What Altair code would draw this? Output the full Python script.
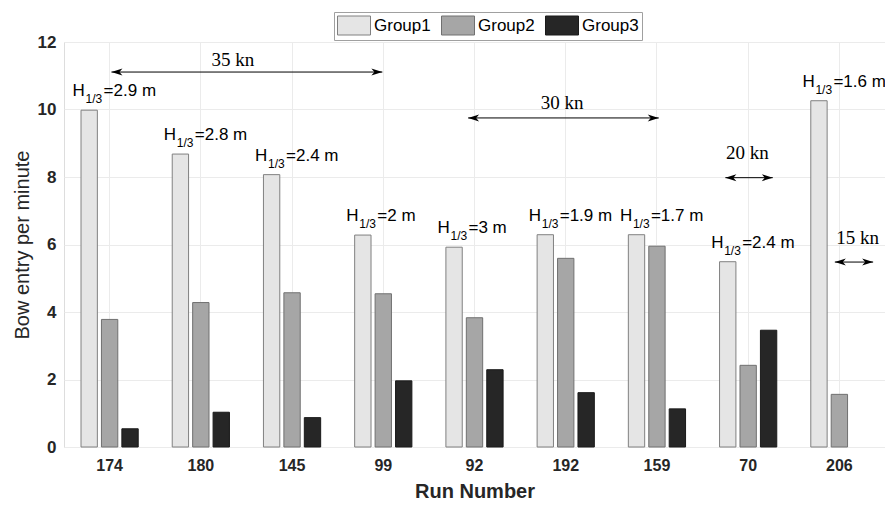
import altair as alt
import pandas as pd

# ---------------- data ----------------
runs = ["174", "180", "145", "99", "92", "192", "159", "70", "206"]
groups = ["Group1", "Group2", "Group3"]
group1 = [9.98, 8.68, 8.07, 6.28, 5.92, 6.29, 6.29, 5.49, 10.26]
group2 = [3.78, 4.28, 4.57, 4.54, 3.83, 5.59, 5.95, 2.42, 1.56]
group3 = [0.54, 1.03, 0.87, 1.96, 2.29, 1.61, 1.13, 3.46, 0.0]
h13 = ["2.9 m", "2.8 m", "2.4 m", "2 m", "3 m", "1.9 m", "1.7 m", "2.4 m", "1.6 m"]

arrow_labels = ["35 kn", "30 kn", "20 kn", "15 kn"]
arrow_x1 = [1.02, 4.93, 7.75, 8.95]
arrow_x2 = [3.99, 7.02, 8.27, 9.37]
arrow_y = [11.11, 9.75, 7.98, 5.48]
arrow_tx = [2.35, 5.96, 7.99, 9.20]
arrow_ty = [11.47, 10.20, 8.71, 6.19]

fills = ["#e5e5e5", "#a6a6a6", "#262626"]
strokes = ["#808080", "#707070", "#1a1a1a"]

# ---------------- tables ----------------
rows = []
for r, a, b, c in zip(runs, group1, group2, group3):
    for g, v in zip(groups, [a, b, c]):
        rows.append({"run": r, "group": g, "value": v})
bar_df = pd.DataFrame(rows)

ann_df = pd.DataFrame({
    "idx": list(range(1, len(runs) + 1)),
    "value": group1,
    "rest": ["=" + s for s in h13],
    "H": ["H"] * len(runs),
    "sub": ["1/3"] * len(runs),
})

arr_df = pd.DataFrame({"label": arrow_labels, "x1": arrow_x1, "x2": arrow_x2,
                       "value": arrow_y, "tx": arrow_tx, "ty": arrow_ty})

W, H = 821, 405
FONT = "Liberation Sans"
xlin = alt.Scale(domain=[0.5, 9.5], nice=False, zero=False)
yscale = alt.Scale(domain=[0, 12], nice=False)

bars = alt.Chart(bar_df).transform_filter("datum.value > 0").mark_bar(strokeWidth=1).encode(
    x=alt.X("run:N", sort=runs,
            scale=alt.Scale(paddingInner=0.328, paddingOuter=0.164),
            axis=alt.Axis(title="Run Number", labelAngle=0, ticks=False, domain=False,
                          grid=True, gridColor="#ebebeb", labelFont=FONT, labelFontSize=16,
                          labelFontWeight="bold", labelColor="#262626", labelPadding=10,
                          titleFont=FONT, titleFontSize=20, titleFontWeight="bold",
                          titleColor="#262626", titlePadding=8)),
    xOffset=alt.XOffset("group:N", sort=groups,
                        scale=alt.Scale(paddingInner=0.2, paddingOuter=0.1)),
    y=alt.Y("value:Q", scale=yscale,
            axis=alt.Axis(title="Bow entry per minute", values=[0, 2, 4, 6, 8, 10, 12],
                          ticks=False, domain=False, grid=True, gridColor="#ebebeb",
                          labelFont=FONT, labelFontSize=17, labelFontWeight="bold",
                          labelColor="#262626", labelPadding=8,
                          titleFont=FONT, titleFontSize=20, titleFontWeight="normal",
                          titleColor="#262626", titlePadding=5)),
    color=alt.Color("group:N", scale=alt.Scale(domain=groups, range=fills),
                    legend=alt.Legend(title=None, orient="none", legendX=270, legendY=-30,
                                      direction="horizontal",
                                      symbolType="M-1,-0.95L2.3,-0.95L2.3,0.95L-1,0.95Z",
                                      symbolSize=400, symbolStrokeColor="#808080",
                                      symbolStrokeWidth=1, symbolOpacity=1,
                                      labelFont=FONT, labelFontSize=17, labelColor="black",
                                      labelOffset=16, columnPadding=8,
                                      strokeColor="#a0a0a0", fillColor="white", padding=3)),
    stroke=alt.Stroke("group:N", scale=alt.Scale(domain=groups, range=strokes), legend=None),
)

xq = alt.X("idx:Q", scale=xlin, axis=None)
yq = alt.Y("value:Q", scale=yscale)

h_text = alt.Chart(ann_df).mark_text(align="left", baseline="alphabetic", dx=-37, dy=-14,
                                     font=FONT, fontSize=17, color="black").encode(
    x=xq, y=yq, text="H:N")
sub_text = alt.Chart(ann_df).mark_text(align="left", baseline="alphabetic", dx=-24, dy=-7,
                                       font=FONT, fontSize=12, color="black").encode(
    x=xq, y=yq, text="sub:N")
rest_text = alt.Chart(ann_df).mark_text(align="left", baseline="alphabetic", dx=-6, dy=-14,
                                        font=FONT, fontSize=17, color="black").encode(
    x=xq, y=yq, text="rest:N")

rules = alt.Chart(arr_df).mark_rule(color="black", strokeWidth=1).encode(
    x=alt.X("x1:Q", scale=xlin, axis=None), x2="x2:Q", y=yq)
head_r = alt.Chart(arr_df).mark_point(shape="M0,0L-2.2,-0.7L-1.6,0L-2.2,0.7Z", size=100,
                                      filled=True, color="black", opacity=1).encode(
    x=alt.X("x2:Q", scale=xlin, axis=None), y=yq)
head_l = alt.Chart(arr_df).mark_point(shape="M0,0L2.2,-0.7L1.6,0L2.2,0.7Z", size=100,
                                      filled=True, color="black", opacity=1).encode(
    x=alt.X("x1:Q", scale=xlin, axis=None), y=yq)
arr_text = alt.Chart(arr_df).mark_text(font="Liberation Serif", fontSize=19, color="black",
                                       align="center", baseline="middle").encode(
    x=alt.X("tx:Q", scale=xlin, axis=None), y=alt.Y("ty:Q", scale=yscale), text="label:N")

chart = alt.layer(bars, h_text, sub_text, rest_text, rules, head_r, head_l, arr_text).resolve_scale(
    x="independent"
).properties(
    width=W, height=H,
    autosize=alt.AutoSizeParams(type="none"),
    padding={"left": 64, "top": 42, "right": 0, "bottom": 59},
).configure_view(stroke="#404040", strokeWidth=1).configure(background="white")

chart.save("out.html", embed_options={"renderer": "svg", "actions": False})
